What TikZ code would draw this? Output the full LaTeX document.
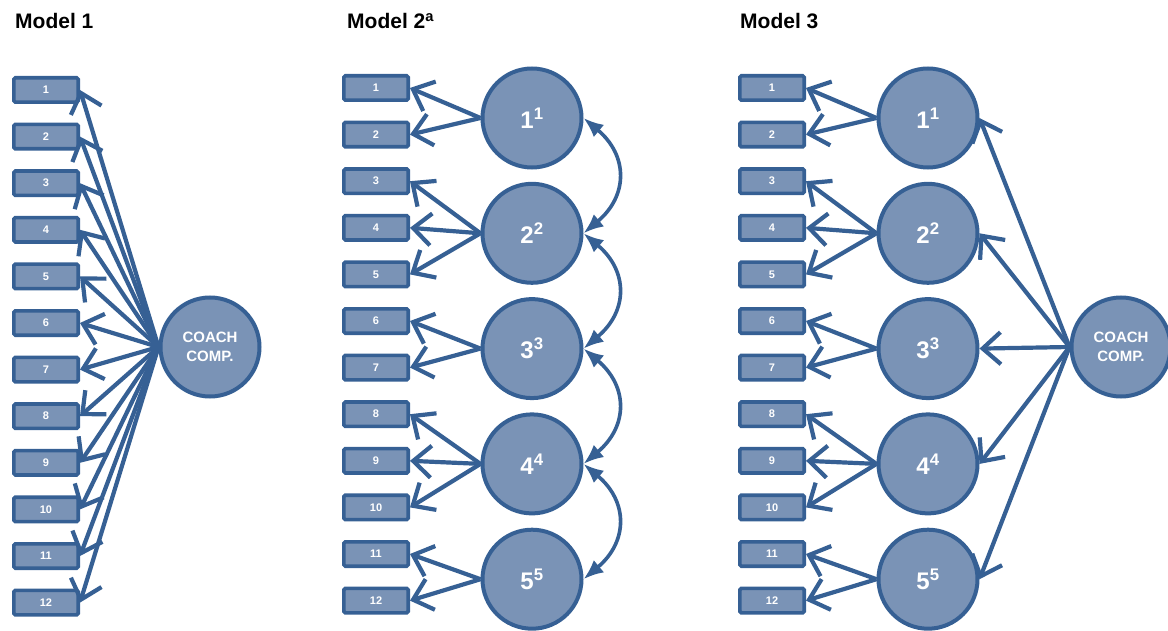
\documentclass[tikz,border=0pt]{standalone}
\usepackage{fontspec}
\setmainfont{Liberation Sans}
\usetikzlibrary{arrows.meta}
\definecolor{edgec}{RGB}{54,96,148}
\definecolor{fillc}{RGB}{122,147,182}
\tikzset{
 item/.style={draw=edgec, fill=fillc, line width=3.6pt, rounded corners=1.5pt, minimum width=64.4pt, minimum height=24.4pt, inner sep=0pt, text=white, font=\bfseries\fontsize{11}{13}\selectfont},
 latent/.style={circle, draw=edgec, fill=fillc, line width=4pt, minimum size=99pt, inner sep=0pt, text=white, font=\bfseries\fontsize{24}{26}\selectfont},
 coach/.style={latent, font=\bfseries\fontsize{15}{19}\selectfont, align=center},
 load/.style={draw=edgec, line width=4.2pt, -{Straight Barb[length=18pt,width=32pt]}},
 cov/.style={draw=edgec, line width=3.6pt, {Latex[length=20pt,width=16pt]}-{Latex[length=20pt,width=16pt]}},
 title/.style={font=\bfseries\fontsize{21}{24}\selectfont, anchor=base west, inner sep=0pt}
}
\begin{document}
\begin{tikzpicture}[x=1pt,y=1pt]
\useasboundingbox (0,0) rectangle (1168,-631);
\clip (0,0) rectangle (1168,-631);
% titles
\node[title] (t1) at (15,-29) {Model 1};
\node[title] (t2) at (347,-29) {Model 2\textsuperscript{a}};
\node[title] (t3) at (740,-29) {Model 3};
% Model 1
\node[coach] (cc1) at (210,-347) {COACH\\COMP.};
\foreach \i in {1,...,12} {
  \node[item] (a\i) at (46,{-(90+46.6*(\i-1))}) {\i};
  \draw[load] (cc1.west) -- (a\i.east);
}
% Model 2
\foreach \i in {1,...,12} {
  \node[item] (b\i) at (376,{-(88+46.6*(\i-1))}) {\i};
}
\foreach \k in {1,...,5} {
  \node[latent] (m\k) at (532,{-(118+115.3*(\k-1))}) {\k\textsuperscript{\k}};
}
\foreach \k/\list in {1/{1,2},2/{3,4,5},3/{6,7},4/{8,9,10},5/{11,12}} {
  \foreach \i in \list { \draw[load] (m\k.west) -- (b\i.east); }
}
\foreach \k/\n in {1/2,2/3,3/4,4/5} {
  \draw[cov] (m\k.east) to[out=-40,in=40,looseness=1.3] (m\n.east);
}
% Model 3
\node[coach] (cc3) at (1121,-347) {COACH\\COMP.};
\foreach \i in {1,...,12} {
  \node[item] (c\i) at (772,{-(88+46.6*(\i-1))}) {\i};
}
\foreach \k in {1,...,5} {
  \node[latent] (n\k) at (928,{-(118+115.3*(\k-1))}) {\k\textsuperscript{\k}};
  \draw[load] (cc3.west) -- (n\k.east);
}
\foreach \k/\list in {1/{1,2},2/{3,4,5},3/{6,7},4/{8,9,10},5/{11,12}} {
  \foreach \i in \list { \draw[load] (n\k.west) -- (c\i.east); }
}
\end{tikzpicture}
\end{document}
